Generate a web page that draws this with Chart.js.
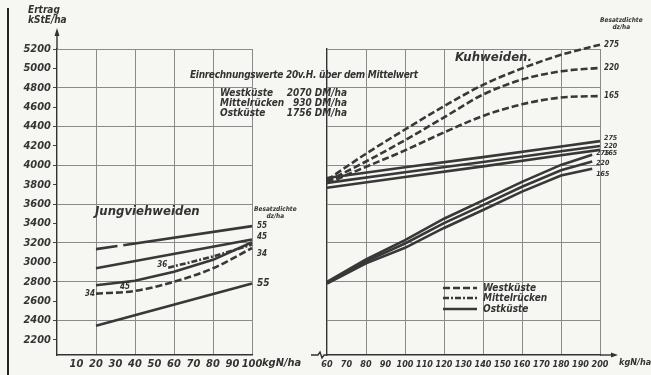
<!DOCTYPE html>
<html>
<head>
<meta charset="utf-8">
<script src="https://cdn.jsdelivr.net/npm/chart.js@4/dist/chart.umd.min.js"></script>
<style>
  body { margin: 0; width: 651px; height: 375px; overflow: hidden; position: relative; background: #f6f6f3;
         font-family: "Liberation Sans Narrow", "DejaVu Sans Condensed", sans-serif; font-style: italic; font-weight: bold; color: #333; }
  #left { position: absolute; left: 0; top: 0; width: 310px; height: 375px; }
  #right { position: absolute; left: 310px; top: 0; width: 341px; height: 375px; }
  .t { position: absolute; white-space: nowrap; line-height: 1; }
  .edge { position: absolute; left: 7px; top: 8px; width: 2px; height: 367px; background: #222; }
</style>
</head>
<body>
<div class="edge"></div>
<div id="left"><canvas id="cLeft"></canvas></div>
<div id="right"><canvas id="cRight"></canvas></div>

<div class="t" style="left:28px;top:5px;font-size:10px">Ertrag</div>
<div class="t" style="left:28px;top:15px;font-size:10px">kStE/ha</div>
<div class="t" style="left:95px;top:204px;font-size:13px">Jungviehweiden</div>
<div class="t" style="left:455px;top:50px;font-size:13px">Kuhweiden.</div>
<div class="t" style="left:254px;top:206px;font-size:6.5px;text-align:center">Besatzdichte<br>dz/ha</div>
<div class="t" style="left:600px;top:17px;font-size:6.5px;text-align:center">Besatzdichte<br>dz/ha</div>

<div class="t" style="left:190px;top:70px;font-size:10px;letter-spacing:-0.3px">Einrechnungswerte 20v.H. über dem Mittelwert</div>
<div class="t" style="left:220px;top:88px;font-size:10px">Westküste</div>
<div class="t" style="left:220px;top:98px;font-size:10px">Mittelrücken</div>
<div class="t" style="left:220px;top:108px;font-size:10px">Ostküste</div>
<div class="t" style="right:304px;top:88px;font-size:10px">2070 DM/ha</div>
<div class="t" style="right:304px;top:98px;font-size:10px">930 DM/ha</div>
<div class="t" style="right:304px;top:108px;font-size:10px">1756 DM/ha</div>

<svg style="position:absolute;left:443px;top:282px" width="36" height="32">
  <line x1="0" y1="6" x2="34" y2="6" stroke="#383838" stroke-width="2.6" stroke-dasharray="7 3"/>
  <line x1="0" y1="16" x2="34" y2="16" stroke="#383838" stroke-width="2.6" stroke-dasharray="6 2 2 2"/>
  <line x1="0" y1="27" x2="34" y2="27" stroke="#383838" stroke-width="2.6"/>
</svg>
<div class="t" style="left:483px;top:283px;font-size:10px">Westküste</div>
<div class="t" style="left:483px;top:293px;font-size:10px">Mittelrücken</div>
<div class="t" style="left:483px;top:304px;font-size:10px">Ostküste</div>

<div class="t" style="left:262px;top:357px;font-size:11px">kgN/ha</div>
<div class="t" style="left:619px;top:358px;font-size:9px">kgN/ha</div>

<script>
const FONT = '"Liberation Sans Narrow", "DejaVu Sans Condensed", sans-serif';
const ink = '#383838';
const gridColor = '#8a8a8a';

// y axis (kStE/ha)
const yMin = 2045;
const yMax = 5200;
const yTicks = [2200, 2400, 2600, 2800, 3000, 3200, 3400, 3600, 3800, 4000, 4200, 4400, 4600, 4800, 5000, 5200];

// Jungviehweiden (kg N/ha 0..100)
const jungTopX = [20, 31, 32.5, 34, 100];
const jungTop55 = [3137, 3168, null, 3176, 3374];
const jungLineX = [20, 100];
const jungOst45 = [2939, 3235];
const jungOst55 = [2347, 2782];
const jungCurveX = [20, 40, 60, 80, 100];
const jungOst45b = [2765, 2810, 2904, 3026, 3207];
const jungWest34 = [2678, 2706, 2800, 2939, 3148];
const jungMitteX = [57, 80, 100];
const jungMitte36 = [2945, 3061, 3183];

// Kuhweiden (kg N/ha 60..200)
const kuhX = [60, 80, 100, 120, 140, 160, 180, 200];
const kuhWest275 = [3850, 4120, 4370, 4610, 4830, 5000, 5140, 5245];
const kuhWest220 = [3835, 4040, 4260, 4495, 4730, 4885, 4970, 5005];
const kuhWest165 = [3815, 3985, 4155, 4340, 4510, 4630, 4700, 4715];
const kuhOstX = [60, 100, 140, 180, 200];
const kuhOst275 = [3870, 3980, 4085, 4195, 4250];
const kuhOst220 = [3820, 3930, 4035, 4145, 4200];
const kuhOst165 = [3770, 3880, 3990, 4105, 4160];
const kuhLowX = [60, 80, 100, 120, 140, 160, 180, 196];
const kuhLow275 = [2800, 3030, 3230, 3450, 3640, 3830, 4005, 4110];
const kuhLow220 = [2790, 3010, 3195, 3405, 3590, 3780, 3950, 4040];
const kuhLow165 = [2780, 2990, 3150, 3355, 3540, 3730, 3895, 3965];

Chart.defaults.font.family = FONT;
Chart.defaults.color = '#333';

const tickFont = { family: FONT, size: 11, style: 'italic', weight: 'bold' };
const styles = {
  west: { borderDash: [7, 3], curved: true },
  mitte: { borderDash: [6, 2, 2, 2], curved: true },
  ost: { borderDash: [], curved: false }
};

function pts(xs, ys) {
  return xs.map((x, i) => ({ x: x, y: ys[i] }));
}

function line(xs, ys, kind, extra) {
  const ds = {
    data: pts(xs, ys),
    borderColor: ink,
    borderWidth: 2.6,
    pointRadius: 0,
    fill: false,
    spanGaps: false,
    clip: false,
    tension: 0,
    borderDash: styles[kind].borderDash
  };
  if (styles[kind].curved) ds.cubicInterpolationMode = 'monotone';
  return Object.assign(ds, extra || {});
}

// labels at the ends of the curves (Besatzdichte)
const lineLabels = {
  id: 'lineLabels',
  afterDatasetsDraw(chart) {
    const ctx = chart.ctx;
    ctx.save();
    ctx.fillStyle = '#333';
    ctx.textBaseline = 'middle';
    chart.data.datasets.forEach((ds, i) => {
      const meta = chart.getDatasetMeta(i);
      const good = meta.data.filter((p, j) => ds.data[j].y !== null);
      ctx.font = 'italic bold ' + (ds.labelSize || 8) + 'px ' + FONT;
      if (ds.endLabel) {
        const p = good[good.length - 1];
        ctx.textAlign = 'left';
        ctx.fillText(ds.endLabel, p.x + (ds.endDx || 4), p.y + (ds.endDy || 0));
      }
      if (ds.startLabel) {
        const p = good[0];
        ctx.textAlign = 'right';
        ctx.fillText(ds.startLabel, p.x + (ds.startDx || -2), p.y + (ds.startDy || 0));
      }
    });
    ctx.restore();
  }
};

const axisExtras = {
  id: 'axisExtras',
  afterDraw(chart, args, opts) {
    const ctx = chart.ctx;
    const a = chart.chartArea;
    ctx.save();
    ctx.strokeStyle = '#333';
    ctx.fillStyle = '#333';
    ctx.lineWidth = 1.4;
    if (opts.yArrow) {
      ctx.beginPath();
      ctx.moveTo(a.left, a.top);
      ctx.lineTo(a.left, a.top - 16);
      ctx.stroke();
      ctx.beginPath();
      ctx.moveTo(a.left, a.top - 21);
      ctx.lineTo(a.left - 2.5, a.top - 13);
      ctx.lineTo(a.left + 2.5, a.top - 13);
      ctx.closePath();
      ctx.fill();
    }
    if (opts.xArrow) {
      ctx.beginPath();
      ctx.moveTo(a.right, a.bottom);
      ctx.lineTo(a.right + 14, a.bottom);
      ctx.stroke();
      ctx.beginPath();
      ctx.moveTo(a.right + 18, a.bottom);
      ctx.lineTo(a.right + 11, a.bottom - 2.5);
      ctx.lineTo(a.right + 11, a.bottom + 2.5);
      ctx.closePath();
      ctx.fill();
    }
    if (opts.breakLeft) {
      ctx.beginPath();
      ctx.moveTo(a.left - 16, a.bottom);
      ctx.lineTo(a.left - 9, a.bottom);
      ctx.lineTo(a.left - 7, a.bottom - 3);
      ctx.lineTo(a.left - 5, a.bottom + 3);
      ctx.lineTo(a.left - 3, a.bottom);
      ctx.lineTo(a.left, a.bottom);
      ctx.stroke();
    }
    ctx.restore();
  }
};

function yScale(showLabels, width) {
  return {
    type: 'linear',
    min: yMin,
    max: yMax,
    afterBuildTicks: (s) => { s.ticks = yTicks.map(v => ({ value: v })); },
    afterFit: (s) => { s.width = width; },
    border: { display: true, color: '#333', width: 1.4 },
    grid: {
      color: (c) => (c.tick && c.tick.value % 400 === 0 && c.tick.value >= 2400) ? gridColor : 'rgba(0,0,0,0)',
      lineWidth: 1,
      drawTicks: showLabels,
      tickLength: 4,
      tickColor: '#444'
    },
    ticks: { display: showLabels, font: tickFont, color: '#333', padding: 2, callback: (v) => String(v) }
  };
}

new Chart(document.getElementById('cLeft'), {
  type: 'line',
  data: {
    datasets: [
      line(jungTopX, jungTop55, 'ost', { endLabel: '55', endDx: 5 }),
      line(jungLineX, jungOst45, 'ost', { endLabel: '45', endDx: 5, endDy: -3 }),
      line(jungCurveX, jungOst45b, 'ost', { startLabel: '45', startDx: 34, startDy: 2 }),
      line(jungCurveX, jungWest34, 'west', { startLabel: '34', startDx: -1, endLabel: '34', endDx: 5, endDy: 6 }),
      line(jungMitteX, jungMitte36, 'mitte', { startLabel: '36', startDx: -1, startDy: -3 }),
      line(jungLineX, jungOst55, 'ost', { endLabel: '55', endDx: 5, labelSize: 10 })
    ]
  },
  options: {
    animation: false,
    responsive: true,
    maintainAspectRatio: false,
    layout: { padding: { top: 49, right: 58, bottom: 0, left: 0 } },
    plugins: { legend: { display: false }, tooltip: { enabled: false }, axisExtras: { yArrow: true } },
    scales: {
      x: {
        type: 'linear',
        min: 0,
        max: 100,
        afterFit: (s) => { s.height = 20; },
        border: { display: true, color: '#333', width: 1.4 },
        grid: {
          color: (c) => (c.tick && c.tick.value % 20 === 0 && c.tick.value > 0) ? gridColor : 'rgba(0,0,0,0)',
          drawTicks: false
        },
        ticks: {
          stepSize: 10,
          autoSkip: false,
          maxRotation: 0,
          font: tickFont,
          color: '#333',
          padding: 3,
          callback: (v) => v === 0 ? '' : v
        }
      },
      y: yScale(true, 57)
    }
  },
  plugins: [lineLabels, axisExtras]
});

new Chart(document.getElementById('cRight'), {
  type: 'line',
  data: {
    datasets: [
      line(kuhX, kuhWest275, 'west', { endLabel: '275' }),
      line(kuhX, kuhWest220, 'west', { endLabel: '220' }),
      line(kuhX, kuhWest165, 'west', { endLabel: '165' }),
      line(kuhOstX, kuhOst275, 'ost', { endLabel: '275', endDy: -3, labelSize: 7 }),
      line(kuhOstX, kuhOst220, 'ost', { endLabel: '220', labelSize: 7 }),
      line(kuhOstX, kuhOst165, 'ost', { endLabel: '165', endDy: 3, labelSize: 7 }),
      line(kuhLowX, kuhLow275, 'ost', { endLabel: '275', endDx: 0, endDy: -2, labelSize: 7 }),
      line(kuhLowX, kuhLow220, 'ost', { endLabel: '220', endDx: 0, endDy: 2, labelSize: 7 }),
      line(kuhLowX, kuhLow165, 'ost', { endLabel: '165', endDx: 0, endDy: 5, labelSize: 7 })
    ]
  },
  options: {
    animation: false,
    responsive: true,
    maintainAspectRatio: false,
    layout: { padding: { top: 49, right: 51, bottom: 0, left: 0 } },
    plugins: { legend: { display: false }, tooltip: { enabled: false }, axisExtras: { xArrow: true, breakLeft: true } },
    scales: {
      x: {
        type: 'linear',
        min: 60,
        max: 200,
        afterFit: (s) => { s.height = 20; },
        border: { display: true, color: '#333', width: 1.4 },
        grid: {
          color: (c) => (c.tick && c.tick.value % 20 === 0 && c.tick.value > 60) ? gridColor : 'rgba(0,0,0,0)',
          drawTicks: false
        },
        ticks: {
          stepSize: 10,
          autoSkip: false,
          maxRotation: 0,
          font: { family: FONT, size: 9, style: 'italic', weight: 'bold' },
          color: '#333',
          padding: 4
        }
      },
      y: yScale(false, 17)
    }
  },
  plugins: [lineLabels, axisExtras]
});
</script>
</body>
</html>
